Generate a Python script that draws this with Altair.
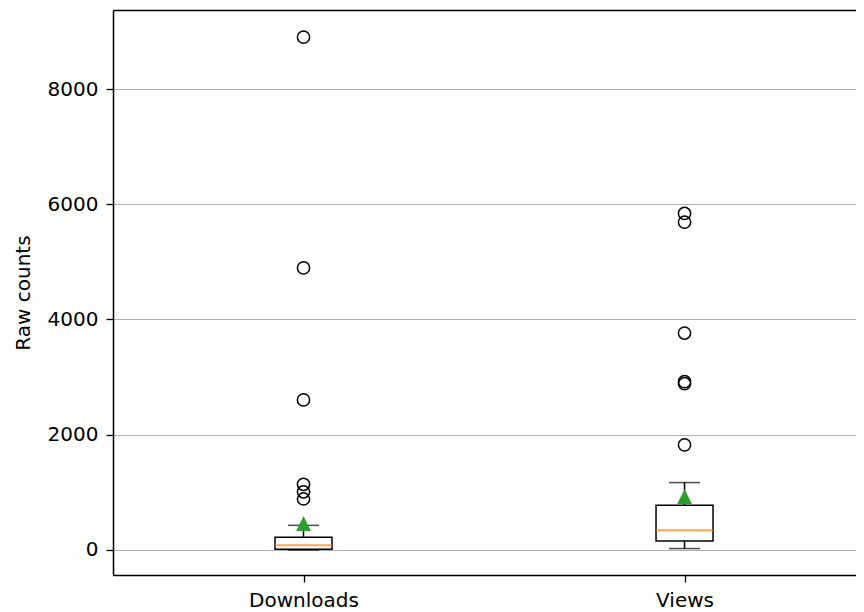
import altair as alt
import pandas as pd

categories = ["Downloads", "Views"]
positions = [1, 2]
q1 = [12, 156]
median = [81, 341]
q3 = [220, 775]
whisker_low = [0, 25]
whisker_high = [428, 1170]
means = [460, 925]
downloads_outliers = [8900, 4895, 2605, 1140, 1010, 885]
views_outliers = [5840, 5690, 3765, 2920, 2885, 1825]
y_ticks = [0, 2000, 4000, 6000, 8000]

box_df = pd.DataFrame({
    "cat": categories, "pos": positions, "q1": q1, "median": median, "q3": q3,
    "lo": whisker_low, "hi": whisker_high, "mean": means,
})
out_df = pd.DataFrame({
    "pos": [positions[0]] * len(downloads_outliers) + [positions[1]] * len(views_outliers),
    "value": downloads_outliers + views_outliers,
})

FONT = "DejaVu Sans"
xscale = alt.Scale(domain=[0.5, 2.450], nice=False, zero=False, padding=0)
yscale = alt.Scale(domain=[-434, 9371], nice=False, zero=False, padding=0)

label_expr = " : ".join(
    [f"datum.value == {p} ? '{c}'" for p, c in zip(positions[:-1], categories[:-1])]
) + f" : '{categories[-1]}'"

x_bottom = alt.Axis(
    values=positions, labelExpr=label_expr, title=None, grid=False, orient="bottom",
    tickSize=7, tickWidth=1.3, tickColor="black", domainColor="black", domainWidth=1.5,
    labelFont=FONT, labelFontSize=20, labelColor="black", labelPadding=8,
)
x_top = alt.Axis(
    orient="top", labels=False, ticks=False, grid=False, title=None,
    domainColor="black", domainWidth=1.5,
)
y_axis = alt.Axis(
    values=y_ticks, format="d", title="Raw counts", titleFont=FONT, titleFontSize=20,
    titleFontWeight="normal", titleColor="black", titlePadding=14,
    tickSize=7, tickWidth=1.3, tickColor="black", domainColor="black", domainWidth=1.5,
    labelFont=FONT, labelFontSize=20, labelColor="black", labelPadding=8,
    grid=True, gridColor="#b0b0b0", gridWidth=1.2, orient="left",
)

base = alt.Chart(box_df)

whisk_lo = base.mark_rule(color="black", strokeWidth=1.5).encode(
    x=alt.X("pos:Q", scale=xscale, axis=x_bottom),
    y=alt.Y("lo:Q", scale=yscale, axis=y_axis),
    y2="q1:Q",
)
whisk_hi = base.mark_rule(color="black", strokeWidth=1.5).encode(
    x=alt.X("pos:Q", scale=xscale, axis=None),
    y=alt.Y("q3:Q", scale=yscale, axis=y_axis),
    y2="hi:Q",
)
cap_lo = base.mark_tick(orient="horizontal", size=31, thickness=1.5, color="black").encode(
    x=alt.X("pos:Q", scale=xscale, axis=None),
    y=alt.Y("lo:Q", scale=yscale, axis=y_axis),
)
cap_hi = base.mark_tick(orient="horizontal", size=31, thickness=1.5, color="black").encode(
    x=alt.X("pos:Q", scale=xscale, axis=None),
    y=alt.Y("hi:Q", scale=yscale, axis=y_axis),
)
box = base.mark_bar(size=57, fill="white", stroke="black", strokeWidth=1.5).encode(
    x=alt.X("pos:Q", scale=xscale, axis=None),
    y=alt.Y("q1:Q", scale=yscale, axis=y_axis),
    y2="q3:Q",
)
med = base.mark_tick(orient="horizontal", size=57, thickness=2, color="#ff7f0e").encode(
    x=alt.X("pos:Q", scale=xscale, axis=None),
    y=alt.Y("median:Q", scale=yscale, axis=y_axis),
)
mean_pt = base.mark_point(
    shape="M0,-1L1,1L-1,1Z", filled=True, color="#2ca02c", size=220, opacity=1
).encode(
    x=alt.X("pos:Q", scale=xscale, axis=None),
    y=alt.Y("mean:Q", scale=yscale, axis=y_axis),
)
outliers = alt.Chart(out_df).mark_point(
    shape="circle", filled=False, color="black", strokeWidth=1.5, size=150, opacity=1
).encode(
    x=alt.X("pos:Q", scale=xscale, axis=x_top),
    y=alt.Y("value:Q", scale=yscale, axis=y_axis),
)

chart = alt.layer(
    whisk_lo, whisk_hi, cap_lo, cap_hi, box, med, mean_pt, outliers
).resolve_axis(x="independent", y="shared").properties(
    width=743, height=565,
    autosize=alt.AutoSizeParams(type="none"),
    padding={"left": 105, "top": 2, "right": 0, "bottom": 35},
    background="white",
).configure_view(stroke=None)

chart.save("out.html", embed_options={"renderer": "svg", "actions": False})
